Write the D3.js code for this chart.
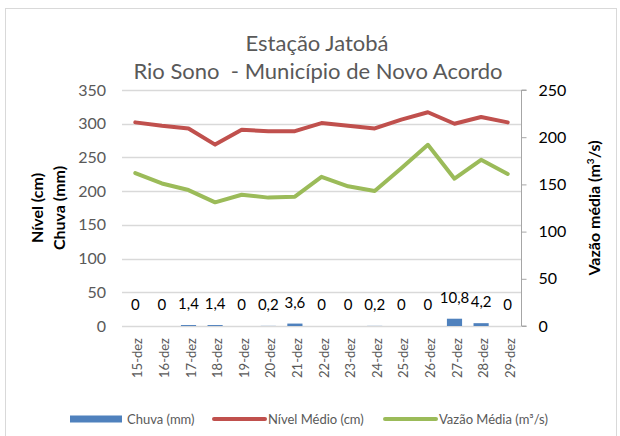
<!DOCTYPE html>
<html>
<head>
<meta charset="utf-8">
<script src="https://cdn.jsdelivr.net/npm/d3@7"></script>
<style>
  body { margin: 0; background: #fff; }
  svg { font-family: Lato, "Open Sans", sans-serif; }
</style>
</head>
<body>
<div id="chart"></div>
<script>
// data
const days = ['15-dez', '16-dez', '17-dez', '18-dez', '19-dez', '20-dez', '21-dez', '22-dez',
	'23-dez', '24-dez', '25-dez', '26-dez', '27-dez', '28-dez', '29-dez']
const chuva = [0, 0, 1.4, 1.4, 0, 0.2, 3.6, 0, 0, 0.2, 0, 0, 10.8, 4.2, 0]
const nivel = [302, 297, 293, 269, 291, 289, 289, 301, 297, 293, 306, 317, 300, 310, 302]
const vazao = [162, 151, 144, 131, 139, 136, 137, 158, 148, 143, 167, 192, 156, 176, 161]
const leftTicks = [0, 50, 100, 150, 200, 250, 300, 350]
const rightTicks = [0, 50, 100, 150, 200, 250]
const legendItems = [
	{ name: 'Chuva (mm)', color: '#4F81BD', kind: 'bar' },
	{ name: 'Nível Médio (cm)', color: '#C0504D', kind: 'line' },
	{ name: 'Vazão Média (m³/s)', color: '#9BBB59', kind: 'line' },
]

const width = 620
const height = 436
const margin = { top: 90, right: 99, bottom: 110, left: 122 }

const svg = d3.select('#chart')
	.append('svg')
	.attr('width', width)
	.attr('height', height)

// chart border
svg.append('rect')
	.attr('x', 5.5).attr('y', 8.5)
	.attr('width', 611).attr('height', 430)
	.attr('fill', '#fff')
	.attr('stroke', '#d9d9d9')

const x = d3.scaleBand()
	.domain(days)
	.range([margin.left, width - margin.right])

const yLeft = d3.scaleLinear()
	.domain([0, 350])
	.range([height - margin.bottom, margin.top])

const yRight = d3.scaleLinear()
	.domain([0, 250])
	.range([height - margin.bottom, margin.top])

const cx = d => x(d) + x.bandwidth() / 2

// grid lines
svg.append('g')
	.selectAll('line')
	.data(leftTicks)
	.join('line')
	.attr('x1', margin.left).attr('x2', width - margin.right)
	.attr('y1', d => Math.round(yLeft(d)) + 0.5)
	.attr('y2', d => Math.round(yLeft(d)) + 0.5)
	.attr('stroke', '#d9d9d9')
	.attr('stroke-width', 1.5)

// left tick labels
svg.append('g')
	.selectAll('text')
	.data(leftTicks)
	.join('text')
	.attr('x', 106)
	.attr('y', d => yLeft(d) + 5.5)
	.attr('text-anchor', 'end')
	.attr('font-size', 16)
	.attr('fill', '#595959')
	.text(d => d)

// right axis
const rightAxis = svg.append('g')
	.attr('transform', `translate(${width - margin.right + 0.5},0)`)
	.call(d3.axisRight(yRight).tickValues(rightTicks).tickSize(5).tickPadding(12))
rightAxis.select('.domain').attr('stroke', '#a6a6a6').attr('d', `M5,${yRight(250)}H0V${yRight(0)}H5`)
rightAxis.selectAll('.tick line').attr('stroke', '#a6a6a6')
rightAxis.selectAll('.tick text')
	.attr('font-size', 16)
	.attr('font-family', 'Lato, sans-serif')
	.attr('fill', '#000')

// x labels
svg.append('g')
	.selectAll('text')
	.data(days)
	.join('text')
	.attr('transform', d => `translate(${cx(d) + 7},338) rotate(-90)`)
	.attr('text-anchor', 'end')
	.attr('font-size', 13)
	.attr('fill', '#595959')
	.text(d => d)

// bars
const barW = x.bandwidth() * 0.57
svg.append('g')
	.selectAll('rect')
	.data(chuva)
	.join('rect')
	.attr('x', (d, i) => cx(days[i]) - barW / 2)
	.attr('y', d => yLeft(d))
	.attr('width', barW)
	.attr('height', d => yLeft(0) - yLeft(d))
	.attr('fill', '#4F81BD')

// bar labels
svg.append('g')
	.selectAll('text')
	.data(chuva)
	.join('text')
	.attr('x', (d, i) => cx(days[i]))
	.attr('y', d => yLeft(d) - 16)
	.attr('text-anchor', 'middle')
	.attr('font-size', 15)
	.attr('fill', '#000')
	.text(d => String(d).replace('.', ','))

// lines
const lineLeft = d3.line()
	.x((d, i) => cx(days[i]))
	.y(d => yLeft(d))
const lineRight = d3.line()
	.x((d, i) => cx(days[i]))
	.y(d => yRight(d))

svg.append('path')
	.datum(nivel)
	.attr('d', lineLeft)
	.attr('fill', 'none')
	.attr('stroke', '#C0504D')
	.attr('stroke-width', 4)
	.attr('stroke-linejoin', 'round')
	.attr('stroke-linecap', 'round')

svg.append('path')
	.datum(vazao)
	.attr('d', lineRight)
	.attr('fill', 'none')
	.attr('stroke', '#9BBB59')
	.attr('stroke-width', 4)
	.attr('stroke-linejoin', 'round')
	.attr('stroke-linecap', 'round')

// title
svg.append('text')
	.attr('x', 317).attr('y', 51)
	.attr('text-anchor', 'middle')
	.attr('font-size', 22)
	.attr('fill', '#595959')
	.text('Estação Jatobá')
svg.append('text')
	.attr('x', 318).attr('y', 79)
	.attr('text-anchor', 'middle')
	.attr('font-size', 22)
	.attr('fill', '#595959')
	.attr('xml:space', 'preserve')
	.text('Rio Sono  - Município de Novo Acordo')

// axis titles
const midY = (yLeft(0) + yLeft(350)) / 2
svg.append('text')
	.attr('transform', `translate(43,${midY}) rotate(-90)`)
	.attr('text-anchor', 'middle')
	.attr('font-size', 16)
	.attr('font-weight', 'bold')
	.text('Nível (cm)')
svg.append('text')
	.attr('transform', `translate(65,${midY}) rotate(-90)`)
	.attr('text-anchor', 'middle')
	.attr('font-size', 16)
	.attr('font-weight', 'bold')
	.text('Chuva (mm)')
const rt = svg.append('text')
	.attr('transform', `translate(600,${midY}) rotate(-90)`)
	.attr('text-anchor', 'middle')
	.attr('font-size', 16)
	.attr('font-weight', 'bold')
rt.append('tspan').text('Vazão média (m')
rt.append('tspan').attr('font-size', 10).attr('dy', -6).text('3')
rt.append('tspan').attr('dy', 6).text('/s)')

// legend
const legendX = [70, 213, 384]
const lg = svg.append('g')
	.selectAll('g')
	.data(legendItems)
	.join('g')
	.attr('transform', (d, i) => `translate(${legendX[i]},419)`)
lg.filter(d => d.kind === 'bar')
	.append('rect')
	.attr('x', 0).attr('y', -3.5)
	.attr('width', 52).attr('height', 7)
	.attr('fill', d => d.color)
lg.filter(d => d.kind === 'line')
	.append('line')
	.attr('x1', 1).attr('x2', 52)
	.attr('stroke', d => d.color)
	.attr('stroke-width', 4)
	.attr('stroke-linecap', 'round')
lg.append('text')
	.attr('x', (d, i) => i === 0 ? 57 : 55)
	.attr('y', 5)
	.attr('font-size', 13)
	.attr('fill', '#595959')
	.text(d => d.name)
</script>
</body>
</html>
